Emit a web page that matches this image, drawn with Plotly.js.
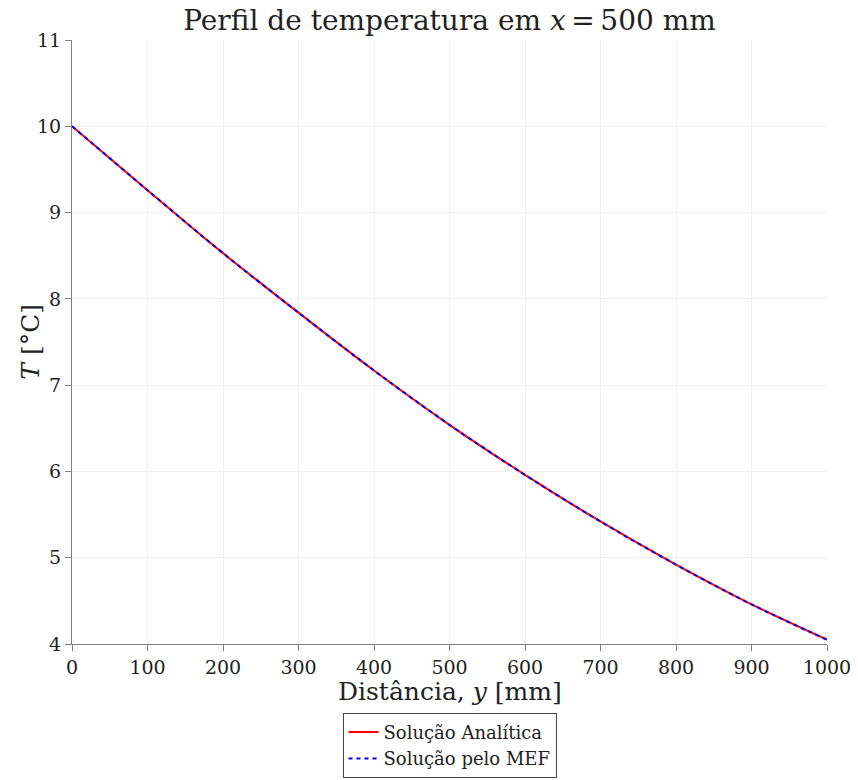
<!DOCTYPE html>
<html>
<head>
<meta charset="utf-8">
<script src="https://cdn.plot.ly/plotly-3.0.1.min.js"></script>
<style>html,body{margin:0;padding:0;background:#fff;}#chart{width:858px;height:780px;}</style>
</head>
<body>
<div id="chart"></div>
<script>
const distance = [0, 100, 200, 300, 400, 500, 600, 700, 800, 900, 1000];
const tAnalytic = [10, 9.26, 8.53, 7.84, 7.17, 6.54, 5.96, 5.42, 4.92, 4.46, 4.05];
const tFem = [10, 9.26, 8.53, 7.84, 7.17, 6.54, 5.96, 5.42, 4.92, 4.46, 4.05];
const xTicks = [0, 100, 200, 300, 400, 500, 600, 700, 800, 900, 1000];
const yTicks = [4, 5, 6, 7, 8, 9, 10, 11];
const xTitle = 'Distância, <i>y</i> [mm]';
const yTitle = '<i>T</i> [°C]';

const font = 'DejaVu Serif, serif';
const traces = [
  {x: distance, y: tAnalytic, type: 'scatter', mode: 'lines', name: 'Solução Analítica',
   line: {color: '#ff0000', width: 2, shape: 'spline'}},
  {x: distance, y: tFem, type: 'scatter', mode: 'lines', name: 'Solução pelo MEF',
   line: {color: '#0000ff', width: 2, dash: '4px,4px', shape: 'spline'}}
];
const axisCommon = {
  showline: true, linecolor: '#808080', linewidth: 1,
  ticks: 'outside', ticklen: 6, tickcolor: '#808080',
  showgrid: true, gridcolor: '#f0f0f0', gridwidth: 1, zeroline: false,
  tickfont: {family: font, size: 19, color: '#222'},
  automargin: false
};
const layout = {
  width: 858, height: 780,
  margin: {l: 72, r: 31, t: 40, b: 136, autoexpand: false},
  paper_bgcolor: '#fff', plot_bgcolor: '#fff',
  font: {family: font, color: '#222'},
  title: {text: 'Perfil de temperatura em <i>x</i>\u2009=\u2009500 mm', font: {family: font, size: 28, color: '#222'},
          xref: 'paper', x: 0.5, xanchor: 'center', y: 0.987, yanchor: 'top'},
  xaxis: Object.assign({}, axisCommon, {
    range: [0, 1000], tickvals: xTicks, ticktext: xTicks.map(String)
  }),
  yaxis: Object.assign({}, axisCommon, {
    range: [4, 11], tickvals: yTicks, ticktext: yTicks.map(String)
  }),
  annotations: [
    {text: xTitle, xref: 'paper', yref: 'paper', x: 0.5, y: -0.079, xanchor: 'center', yanchor: 'middle',
     showarrow: false, font: {family: font, size: 25, color: '#222'}},
    {text: yTitle, xref: 'paper', yref: 'paper', x: -0.056, y: 0.5, xanchor: 'center', yanchor: 'middle',
     textangle: -90, showarrow: false, font: {family: font, size: 25, color: '#222'}}
  ],
  showlegend: true,
  legend: {x: 0.5, xanchor: 'center', y: -0.114, yanchor: 'top',
           bordercolor: '#444', borderwidth: 1, bgcolor: '#fff',
           font: {family: font, size: 18, color: '#222'},
           tracegroupgap: 0, itemwidth: 30}
};
Plotly.newPlot('chart', traces, layout, {staticPlot: true});
</script>
</body>
</html>
